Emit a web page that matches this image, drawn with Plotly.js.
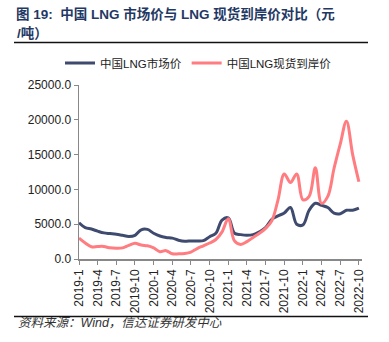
<!DOCTYPE html>
<html><head><meta charset="utf-8">
<script src="https://cdn.plot.ly/plotly-3.0.1.min.js"></script>
<style>html,body{margin:0;padding:0;background:#fff}#c{width:389px;height:342px}</style>
</head><body><div id="c"></div>
<script>
const months = [];
for (let y = 2019; y <= 2022; y++) for (let m = 1; m <= 12; m++) { if (y === 2022 && m > 10) break; months.push(y + '-' + m); }
const tickLabels = ['2019-1','2019-4','2019-7','2019-10','2020-1','2020-4','2020-7','2020-10','2021-1','2021-4','2021-7','2021-10','2022-1','2022-4','2022-7','2022-10'];
const marketPrice = [5200,4500,4300,4000,3750,3650,3550,3400,3250,3400,4200,4250,3700,3300,3100,3000,2700,2550,2600,2600,2650,3200,3700,5600,5900,3700,3500,3400,3500,3900,4500,5700,6200,6600,7400,5000,4900,7000,8000,7700,7400,6600,6500,7000,7000,7300];
const spotPrice = [3000,2300,1750,1800,1800,1600,1550,1600,1950,2250,2000,1900,1600,1050,1200,750,750,800,1000,1500,1900,2300,2800,3900,5800,2600,2100,2500,3100,3700,4400,5500,8500,12200,11000,12200,8500,9000,13100,8000,9000,13000,16500,19800,15000,11100];
const seriesNames = ['中国LNG市场价','中国LNG现货到岸价'];
const font = '"Liberation Sans", Arial, "Noto Sans CJK SC", sans-serif';
const traces = [
  {x: months, y: marketPrice, name: seriesNames[0], type: 'scatter', mode: 'lines', line: {color: '#3F4B6E', width: 3, shape: 'spline', smoothing: 1}},
  {x: months, y: spotPrice, name: seriesNames[1], type: 'scatter', mode: 'lines', line: {color: '#FF7C80', width: 3, shape: 'spline', smoothing: 1}}
];
// paper area spans page x 14..368 and page y 42..317; plot area lives inside via axis domains
const PL = 14, PR = 368, PT = 42, PB = 317;
const PW = PR - PL, PH = PB - PT;
const px = v => (v - PL) / PW;
const py = v => (PB - v) / PH;
function ruleBox(yPage) {
  return {xref: 'paper', yref: 'paper', x: 0, y: py(yPage), xanchor: 'left', yanchor: 'middle',
    text: '.', font: {size: 1, color: 'rgba(0,0,0,0)'}, showarrow: false, width: PW, height: 1,
    bgcolor: '#111', borderpad: 0, borderwidth: 0};
}
const layout = {
  width: 389, height: 342,
  margin: {l: PL, r: 389 - PR, t: PT, b: 342 - PB, pad: 0},
  paper_bgcolor: '#fff', plot_bgcolor: '#fff',
  font: {family: font, size: 12, color: '#222'},
  title: {text: '<b>图 19:  中国 LNG 市场价与 LNG 现货到岸价对比（元</b>', x: 16/389, xanchor: 'left', xref: 'container',
    y: 1 - 14/342, yanchor: 'middle', yref: 'container', font: {size: 13.5, color: '#1F3864', family: font}},
  showlegend: true,
  legend: {orientation: 'h', x: px(60), xanchor: 'left', y: py(63), yanchor: 'middle', itemwidth: 30,
    font: {size: 11.5, color: '#222'}},
  xaxis: {type: 'category', domain: [px(79), px(362)], range: [0, 45.5], tickvals: tickLabels, ticktext: tickLabels, tickangle: -90,
    showgrid: false, zeroline: false, showline: true, linecolor: '#888', linewidth: 1.5, automargin: false,
    ticks: 'outside', ticklen: 4, tickcolor: '#888', tickfont: {size: 12, color: '#222'}},
  yaxis: {domain: [py(259), py(85)], range: [0, 25000], tickvals: [0,5000,10000,15000,20000,25000], tickformat: '.1f',
    showgrid: false, zeroline: false, showline: true, linecolor: '#888', linewidth: 1.5, automargin: false,
    ticks: 'outside', ticklen: 4, tickcolor: '#888', tickfont: {size: 12, color: '#222'}},
  annotations: [
    {xref: 'paper', yref: 'paper', x: px(15), y: py(33), xanchor: 'left', yanchor: 'middle', showarrow: false,
     text: '<b>/吨）</b>', font: {size: 13.5, color: '#1F3864', family: font}},
    {xref: 'paper', yref: 'paper', x: px(16), y: py(323), xanchor: 'left', yanchor: 'middle', showarrow: false,
     text: '<i>资料来源：Wind，信达证券研发中心</i>', font: {size: 12.5, color: '#333', family: font}},
    ruleBox(42.5), ruleBox(316.5)
  ],
  shapes: [
    {type: 'line', xref: 'paper', yref: 'paper', x0: 0, x1: 1, y0: py(42.5), y1: py(42.5), line: {color: '#111', width: 1.5}},
    {type: 'line', xref: 'paper', yref: 'paper', x0: 0, x1: 1, y0: py(316.5), y1: py(316.5), line: {color: '#111', width: 1.5}}
  ]
};
Plotly.newPlot('c', traces, layout, {displayModeBar: false, staticPlot: true});
</script></body></html>
